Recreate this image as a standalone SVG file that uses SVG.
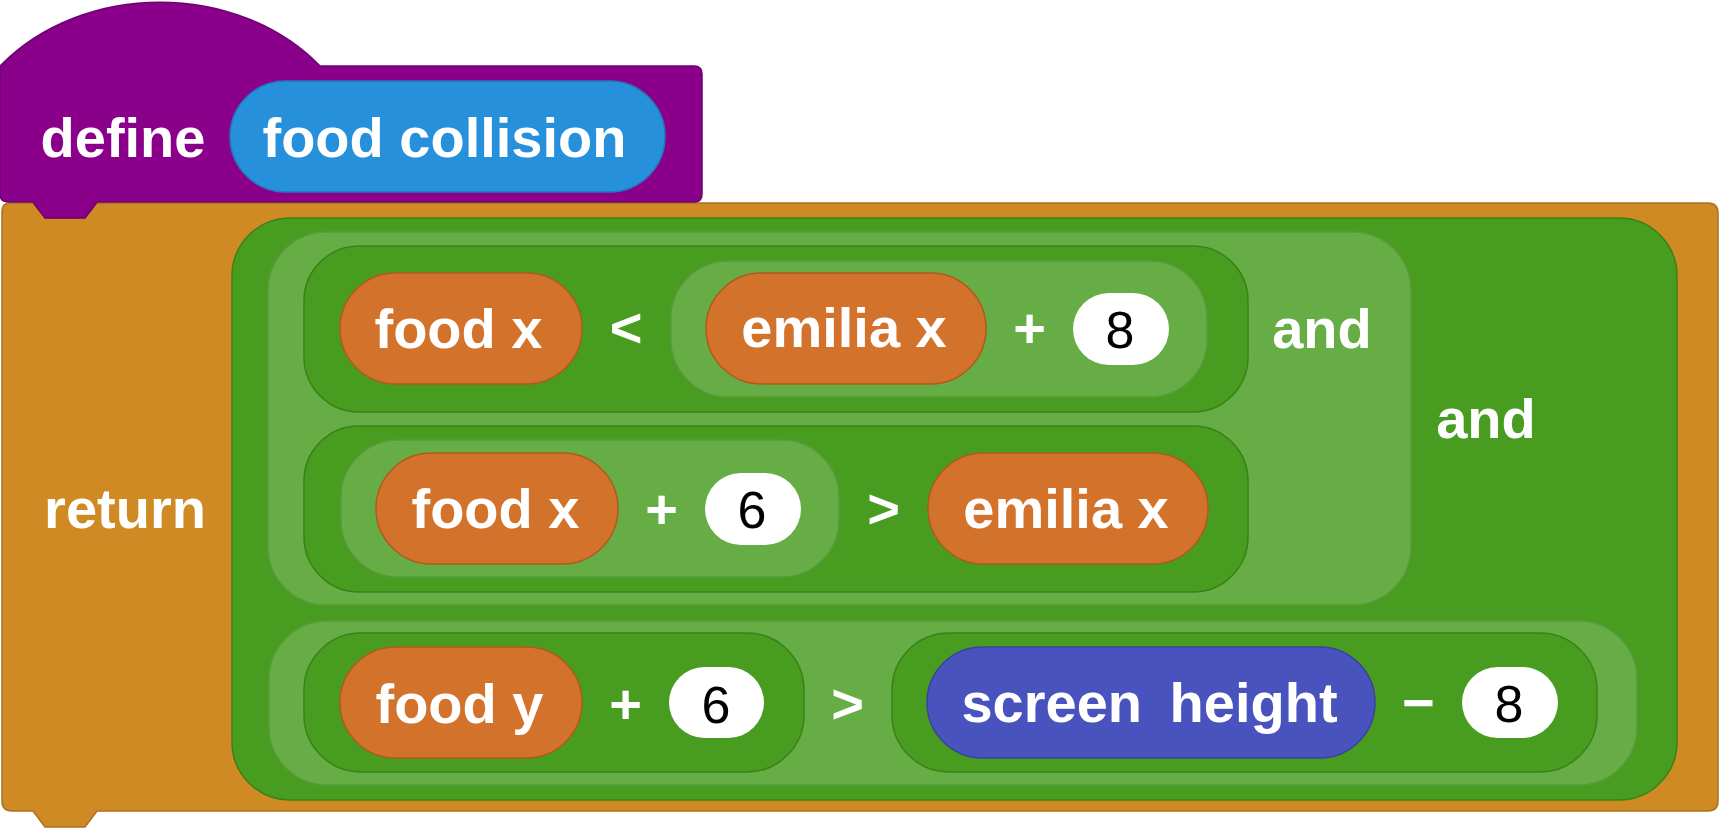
<svg xmlns="http://www.w3.org/2000/svg" width="1719" height="836" viewBox="0 0 1719 836">
<style>
  .lbl { font-family: "Liberation Sans", Arial, sans-serif; font-weight: bold; font-size: 56px; fill: #ffffff; text-anchor: middle; }
  .num { font-family: "Liberation Sans", Arial, sans-serif; font-weight: normal; font-size: 52px; fill: #000000; text-anchor: middle; }
  .dk { fill: #489C1F; stroke: #3B8119; stroke-width: 1.5; }
  .lt { fill: #66AD45; stroke: #5A9A3D; stroke-width: 1.5; }
  .var { fill: #D3722B; stroke: #B05A1F; stroke-width: 1.5; }
  .ind { fill: #4953BE; stroke: #3A41A0; stroke-width: 1.5; }
  .wht { fill: #ffffff; }
</style>
<rect width="1719" height="836" fill="#ffffff"/>

<g id="return-block">
  <path d="M 2 211 Q 2 203 10 203 L 33 203 L 45 218 L 85 218 L 97 203 L 1708 203 Q 1718 203 1718 213 L 1718 801 Q 1718 811 1708 811 L 97 811 L 85 827 L 45 827 L 33 811 L 12 811 Q 2 811 2 801 Z" fill="#D08A24" stroke="#A8711E" stroke-width="1.5"/>
  <text class="lbl" x="125" y="528">return</text>
</g>

<g id="define-block">
  <path d="M 0 66 C 83 -19 237 -19 320 66 L 694 66 Q 702 66 702 74 L 702 194 Q 702 202 694 202 L 97 202 L 85 218 L 45 218 L 33 202 L 8 202 Q 0 202 0 194 Z" fill="#8B008A" stroke="#6E006D" stroke-width="1.5"/>
  <text class="lbl" x="123" y="157">define</text>
</g>

<g id="food-collision">
  <rect x="230" y="81" width="435" height="111" rx="55.5" fill="#2690DB" stroke="#1F79BA" stroke-width="1.5"/>
  <text class="lbl" x="444.5" y="157">food collision</text>
</g>

<g id="and-outer">
  <rect class="dk" x="232" y="218" width="1445" height="582" rx="58"/>
  <text class="lbl" x="1486" y="438">and</text>
</g>

<g id="and-inner">
  <rect class="lt" x="268" y="232" width="1143" height="373" rx="58"/>
  <text class="lbl" x="1322" y="348">and</text>
</g>

<g id="less-than">
  <rect class="dk" x="304" y="246" width="944" height="166" rx="55"/>
  <text class="lbl" x="626" y="347">&lt;</text>
</g>

<g id="food-x-1">
  <rect class="var" x="340" y="273" width="242" height="111" rx="55.5"/>
  <text class="lbl" x="458.5" y="348">food x</text>
</g>

<g id="emilia-plus-8">
  <rect class="lt" x="671" y="261" width="536" height="136" rx="57"/>
  <text class="lbl" x="1029.5" y="347">+</text>
</g>

<g id="emilia-x-1">
  <rect class="var" x="706" y="273" width="280" height="111" rx="55.5"/>
  <text class="lbl" x="844" y="347">emilia x</text>
</g>

<g id="num-8-a">
  <rect class="wht" x="1073" y="293" width="96" height="72" rx="36"/>
  <text class="num" x="1120" y="348">8</text>
</g>

<g id="greater-than-1">
  <rect class="dk" x="304" y="426" width="944" height="166" rx="55"/>
  <text class="lbl" x="883.5" y="528">&gt;</text>
</g>

<g id="foodx-plus-6">
  <rect class="lt" x="341" y="440" width="498" height="137" rx="57"/>
  <text class="lbl" x="661.5" y="528">+</text>
</g>

<g id="food-x-2">
  <rect class="var" x="376" y="453" width="242" height="111" rx="55.5"/>
  <text class="lbl" x="495.5" y="528">food x</text>
</g>

<g id="num-6-a">
  <rect class="wht" x="705" y="473" width="96" height="72" rx="36"/>
  <text class="num" x="752" y="528">6</text>
</g>

<g id="emilia-x-2">
  <rect class="var" x="928" y="453" width="280" height="111" rx="55.5"/>
  <text class="lbl" x="1066" y="528">emilia x</text>
</g>

<g id="greater-than-2">
  <rect class="lt" x="269" y="621" width="1368" height="164" rx="58"/>
  <text class="lbl" x="847.5" y="723">&gt;</text>
</g>

<g id="foody-plus-6">
  <rect class="dk" x="304" y="633" width="500" height="139" rx="57"/>
  <text class="lbl" x="625.5" y="723">+</text>
</g>

<g id="food-y">
  <rect class="var" x="340" y="647" width="242" height="111" rx="55.5"/>
  <text class="lbl" x="459.5" y="723">food y</text>
</g>

<g id="num-6-b">
  <rect class="wht" x="669" y="667" width="95" height="71" rx="35.5"/>
  <text class="num" x="716" y="723">6</text>
</g>

<g id="height-minus-8">
  <rect class="dk" x="892" y="633" width="705" height="139" rx="57"/>
  <text class="lbl" x="1418.5" y="722">−</text>
</g>

<g id="screen-height">
  <rect class="ind" x="927" y="647" width="448" height="111" rx="55.5"/>
  <text class="lbl" x="1149.5" y="722" word-spacing="12">screen height</text>
</g>

<g id="num-8-b">
  <rect class="wht" x="1462" y="667" width="96" height="71" rx="35.5"/>
  <text class="num" x="1509" y="722">8</text>
</g>

<g id="connectors"></g>
</svg>
